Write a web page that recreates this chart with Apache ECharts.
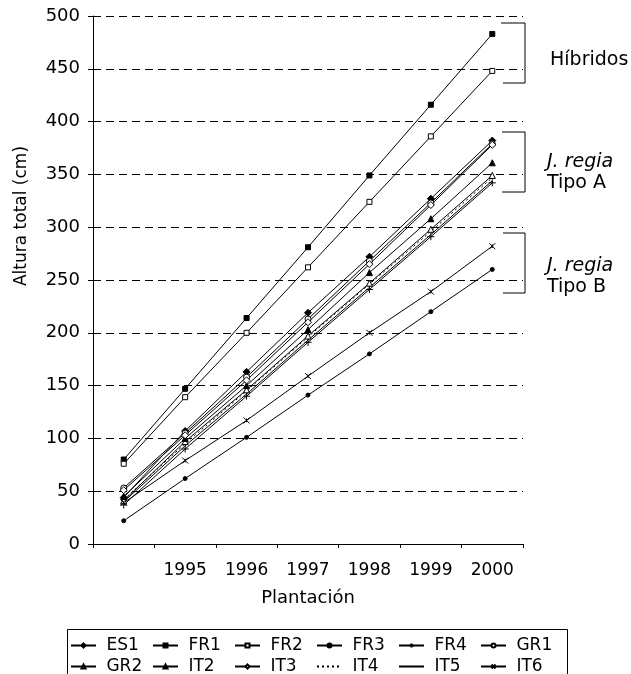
<!DOCTYPE html>
<html>
<head>
<meta charset="utf-8">
<script src="https://cdn.jsdelivr.net/npm/echarts@6/dist/echarts.min.js"></script>
<style>
html,body{margin:0;padding:0;background:#fff;}
#chart{width:631px;height:674px;}
</style>
</head>
<body>
<div id="chart"></div>
<script>
// Categories (first point = plantation, unlabeled)
const years = ['', '1995', '1996', '1997', '1998', '1999', '2000'];
const yTicks = [0, 50, 100, 150, 200, 250, 300, 350, 400, 450, 500];

// Series values (cm)
const ES1 = [44, 107, 163, 219, 272, 327, 382];
const FR1 = [80, 147, 214, 281, 349, 416, 483];
const FR2 = [76, 139, 200, 262, 324, 386, 448];
const FR3 = [22, 62, 101, 141, 180, 220, 260];
const FR4 = [37, 90, 140, 191, 241, 291, 342];
const GR1 = [53, 105, 158, 213, 268, 323, 379];
const GR2 = [41, 97, 146, 197, 247, 298, 349];
const IT2 = [45, 100, 150, 203, 257, 308, 361];
const IT3 = [51, 103, 155, 210, 265, 321, 378];
const IT4 = [42, 95, 145, 196, 246, 296, 347];
const IT5 = [40, 93, 142, 193, 243, 293, 344];
const IT6 = [39, 79, 117, 159, 200, 239, 282];

const FONT = 'DejaVu Sans';
const BLACK = '#000';

function mk(name, data, symbol, size, fill, dash) {
  return {
    name: name,
    type: 'line',
    data: data,
    symbol: symbol,
    symbolSize: size,
    showSymbol: symbol !== 'none',
    lineStyle: { color: BLACK, width: 1, type: dash || 'solid' },
    itemStyle: { color: fill, borderColor: BLACK, borderWidth: 1 },
    emphasis: { disabled: true },
    animation: false
  };
}

const PLUS = 'path://M5,0L5,10M0,5L10,5';
const CROSS = 'path://M0,0L10,10M10,0L0,10M5,2L5,8';

const series = [
  mk('ES1', ES1, 'diamond', 7, BLACK),
  mk('FR1', FR1, 'rect', 5, BLACK),
  mk('FR2', FR2, 'rect', 5, '#fff'),
  mk('FR3', FR3, 'circle', 4, BLACK),
  mk('FR4', FR4, PLUS, 7, 'none'),
  mk('GR1', GR1, 'circle', 6, '#fff'),
  mk('GR2', GR2, 'triangle', 6, '#fff'),
  mk('IT2', IT2, 'triangle', 6, BLACK),
  mk('IT3', IT3, 'diamond', 7, '#fff'),
  mk('IT4', IT4, 'none', 0, BLACK, [2, 3]),
  mk('IT5', IT5, 'none', 0, BLACK),
  mk('IT6', IT6, CROSS, 6, 'none')
];

// Legend: 2 rows x 6 columns, aligned columns
const legends = series.map((s, i) => {
  const lg = {
    left: 70 + (i % 6) * 82,
    top: 637 + Math.floor(i / 6) * 21,
    padding: 0,
    itemWidth: 25,
    itemHeight: 5,
    selectedMode: false,
    formatter: n => ' ' + n,
    textStyle: { fontFamily: FONT, fontSize: 17, color: BLACK },
    data: [s.name]
  };
  if (s.symbol === 'none') {
    lg.itemStyle = { color: 'rgba(0,0,0,0)', borderColor: 'rgba(0,0,0,0)', borderWidth: 0 };
  }
  return lg;
});

const chart = echarts.init(document.getElementById('chart'), null, { renderer: 'canvas' });

const bracket = (pts) => ({
  type: 'polyline',
  shape: { points: pts },
  style: { stroke: BLACK, lineWidth: 1, fill: null }
});
const label = (x, y, text, italic) => ({
  type: 'text',
  x: x, y: y,
  style: {
    text: text, fill: BLACK,
    font: (italic ? 'italic ' : '') + '19px ' + FONT,
    align: 'left', verticalAlign: 'middle'
  }
});

chart.setOption({
  animation: false,
  backgroundColor: '#fff',
  grid: { left: 93, right: 108, top: 16, bottom: 130, containLabel: false },
  xAxis: {
    type: 'category',
    data: years,
    boundaryGap: true,
    name: 'Plantación',
    nameLocation: 'middle',
    nameGap: 45,
    nameTextStyle: { fontFamily: FONT, fontSize: 18, color: BLACK },
    axisLine: { show: true, lineStyle: { color: BLACK, width: 1 } },
    axisTick: { show: true, interval: 0, length: 4, alignWithLabel: false, lineStyle: { color: BLACK } },
    axisLabel: { interval: 0, fontFamily: FONT, fontSize: 17, color: BLACK, margin: 18 },
    splitLine: { show: false }
  },
  yAxis: {
    type: 'value',
    min: yTicks[0],
    max: yTicks[yTicks.length - 1],
    interval: 50,
    axisLine: { show: true, lineStyle: { color: BLACK, width: 1 } },
    axisTick: { show: true, length: 5, lineStyle: { color: BLACK } },
    axisLabel: { fontFamily: FONT, fontSize: 18, color: BLACK, margin: 13 },
    splitLine: { show: true, lineStyle: { color: BLACK, width: 1, type: [8, 5] } }
  },
  legend: legends,
  series: series,
  graphic: [
    {
      type: 'text',
      x: 22, y: 216,
      rotation: Math.PI / 2,
      style: {
        text: 'Altura total (cm)', fill: BLACK,
        font: '17px ' + FONT, align: 'center', verticalAlign: 'middle'
      }
    },
    {
      type: 'rect',
      shape: { x: 67.5, y: 629.5, width: 500, height: 60 },
      style: { stroke: BLACK, lineWidth: 1, fill: null }
    },
    bracket([[501, 23], [525, 23], [525, 83], [503, 83]]),
    bracket([[502, 132], [525, 132], [525, 192], [502, 192]]),
    bracket([[503, 233], [525, 233], [525, 293], [503, 293]]),
    label(550, 60, 'Híbridos', false),
    label(547, 162, 'J. regia', true),
    label(547, 183, 'Tipo A', false),
    label(547, 266, 'J. regia', true),
    label(547, 287, 'Tipo B', false)
  ]
});
</script>
</body>
</html>
